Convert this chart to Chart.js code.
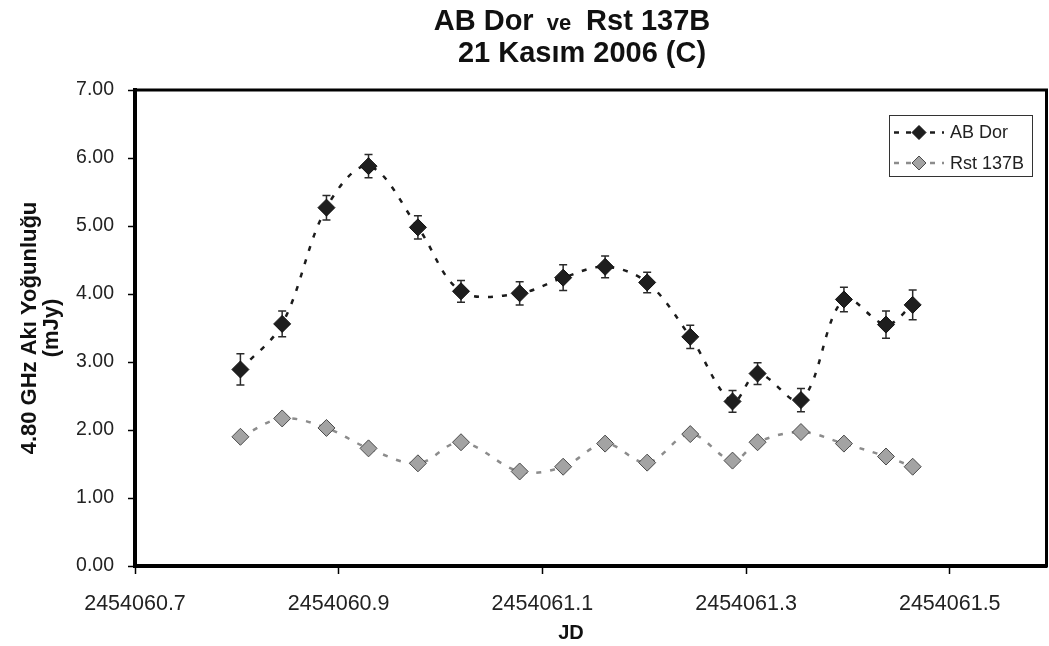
<!DOCTYPE html>
<html>
<head>
    <title>AB Dor ve Rst 137B</title>
    <script src="https://cdn.jsdelivr.net/npm/chart.js"></script>
    <style>
        html, body { margin: 0; padding: 0; background: #fff; overflow: hidden; }
        #chart { display: block; }
    </style>
</head>
<body>
    <canvas id="chart" width="1049" height="646"></canvas>

    <script>
        // Julian dates of the observations
        const jd = [2454060.8035, 2454060.8445, 2454060.8880, 2454060.9293, 2454060.9778, 2454061.0201,
                    2454061.0777, 2454061.1204, 2454061.1616, 2454061.2029, 2454061.2452, 2454061.2867,
                    2454061.3113, 2454061.3539, 2454061.3961, 2454061.4374, 2454061.4636];
        // 4.80 GHz flux density (mJy)
        const abDor = [2.89, 3.56, 5.27, 5.88, 4.98, 4.04, 4.01, 4.24, 4.40, 4.17, 3.37, 2.42, 2.83, 2.44, 3.92, 3.55, 3.84];
        const abDorErr = [0.23, 0.19, 0.18, 0.17, 0.17, 0.16, 0.17, 0.19, 0.16, 0.15, 0.17, 0.16, 0.16, 0.17, 0.18, 0.20, 0.22];
        const rst137b = [1.90, 2.17, 2.03, 1.73, 1.51, 1.82, 1.39, 1.46, 1.80, 1.52, 1.94, 1.55, 1.82, 1.97, 1.80, 1.61, 1.46];
        // axis ticks
        const jdTicks = [2454060.7, 2454060.9, 2454061.1, 2454061.3, 2454061.5];
        const jdTickLabels = ['2454060.7', '2454060.9', '2454061.1', '2454061.3', '2454061.5'];

        const FONT = "'Liberation Sans', Arial, sans-serif";
        const PLOT_RIGHT = 1046;

        function toPoints(ys) {
            return ys.map((y, i) => ({ x: jd[i], y: y }));
        }

        // hata çubukları
        const errorBars = {
            id: 'errorBars',
            beforeDatasetsDraw(chart) {
                const ctx = chart.ctx;
                const xs = chart.scales.x, ys = chart.scales.y;
                ctx.save();
                ctx.strokeStyle = '#2a2a2a';
                ctx.lineWidth = 1.5;
                abDor.forEach((v, i) => {
                    const px = xs.getPixelForValue(jd[i]);
                    const top = ys.getPixelForValue(v + abDorErr[i]);
                    const bot = ys.getPixelForValue(v - abDorErr[i]);
                    ctx.beginPath();
                    ctx.moveTo(px, top); ctx.lineTo(px, bot);
                    ctx.moveTo(px - 4, top); ctx.lineTo(px + 4, top);
                    ctx.moveTo(px - 4, bot); ctx.lineTo(px + 4, bot);
                    ctx.stroke();
                });
                ctx.restore();
            }
        };

        // başlık, çerçeve ve gösterge
        const decorations = {
            id: 'decorations',
            afterDraw(chart) {
                const ctx = chart.ctx;
                const a = chart.chartArea;
                ctx.save();

                // plot frame
                ctx.strokeStyle = '#000';
                ctx.lineWidth = 3;
                ctx.strokeRect(a.left, a.top, a.right - a.left, a.bottom - a.top);

                // title
                ctx.fillStyle = '#111';
                ctx.textBaseline = 'alphabetic';
                const parts = [
                    { t: 'AB Dor', f: 'bold 29px ' + FONT, gap: 13 },
                    { t: 've', f: 'bold 22px ' + FONT, gap: 15 },
                    { t: 'Rst 137B', f: 'bold 29px ' + FONT, gap: 0 }
                ];
                let total = 0;
                parts.forEach(p => { ctx.font = p.f; p.w = ctx.measureText(p.t).width; total += p.w + p.gap; });
                let x = 572 - total / 2;
                ctx.textAlign = 'left';
                parts.forEach(p => { ctx.font = p.f; ctx.fillText(p.t, x, 30); x += p.w + p.gap; });
                ctx.font = 'bold 29px ' + FONT;
                ctx.textAlign = 'center';
                ctx.fillText('21 Kasım 2006 (C)', 582, 62);

                // x axis title
                ctx.font = 'bold 20px ' + FONT;
                ctx.textBaseline = 'middle';
                ctx.fillText('JD', 571, 633);

                // legend
                const lx = 889, ly = 115, lw = 143, lh = 61;
                ctx.fillStyle = '#fff';
                ctx.fillRect(lx, ly, lw, lh);
                ctx.strokeStyle = '#333';
                ctx.lineWidth = 1;
                ctx.strokeRect(lx + 0.5, ly + 0.5, lw, lh);
                chart.data.datasets.forEach((ds, i) => {
                    const y = ly + 17.5 + i * 30.5;
                    ctx.strokeStyle = ds.borderColor;
                    ctx.lineWidth = ds.borderWidth;
                    ctx.setLineDash([5, 7]);
                    ctx.beginPath();
                    ctx.moveTo(894, y); ctx.lineTo(944, y);
                    ctx.stroke();
                    ctx.setLineDash([]);
                    ctx.beginPath();
                    ctx.moveTo(919, y - 7); ctx.lineTo(926, y); ctx.lineTo(919, y + 7); ctx.lineTo(912, y);
                    ctx.closePath();
                    ctx.fillStyle = ds.pointBackgroundColor;
                    ctx.fill();
                    ctx.strokeStyle = ds.pointBorderColor;
                    ctx.lineWidth = 1;
                    ctx.stroke();
                    ctx.fillStyle = '#222';
                    ctx.font = '18px ' + FONT;
                    ctx.textAlign = 'left';
                    ctx.textBaseline = 'middle';
                    ctx.fillText(ds.label, 950, y + 1);
                });
                ctx.restore();
            }
        };

        function makeConfig() {
            return {
                type: 'line',
                data: {
                    datasets: [
                        {
                            label: 'AB Dor',
                            data: toPoints(abDor),
                            borderColor: '#1c1c1c',
                            borderWidth: 2.5,
                            borderDash: [5, 9],
                            tension: 0.35,
                            pointStyle: 'rectRot',
                            pointRadius: 8.5,
                            pointBackgroundColor: '#1e1e1e',
                            pointBorderColor: '#111',
                            pointBorderWidth: 1,
                            fill: false
                        },
                        {
                            label: 'Rst 137B',
                            data: toPoints(rst137b),
                            borderColor: '#8c8c8c',
                            borderWidth: 2.5,
                            borderDash: [5, 9],
                            tension: 0.35,
                            pointStyle: 'rectRot',
                            pointRadius: 8.5,
                            pointBackgroundColor: '#a3a3a3',
                            pointBorderColor: '#4a4a4a',
                            pointBorderWidth: 1,
                            fill: false
                        }
                    ]
                },
                options: {
                    responsive: false,
                    animation: false,
                    layout: { padding: { top: 90, right: 0, left: 0, bottom: 0 } },
                    plugins: {
                        legend: { display: false },
                        title: { display: false },
                        tooltip: { enabled: false }
                    },
                    scales: {
                        x: {
                            type: 'linear',
                            min: 2454060.7,
                            max: 2454061.595,
                            afterBuildTicks: scale => { scale.ticks = jdTicks.map(v => ({ value: v })); },
                            afterFit: scale => {
                                scale.height = 80;
                                scale.paddingLeft = 0;
                                scale.paddingRight = 0;
                            },
                            border: { display: true, color: '#000', width: 4 },
                            grid: { drawOnChartArea: false, drawTicks: true, tickLength: 8, tickColor: '#000', tickWidth: 1.5 },
                            ticks: {
                                padding: 17,
                                color: '#222',
                                font: { family: FONT, size: 21.5 },
                                maxRotation: 0,
                                autoSkip: false,
                                callback: (value, index) => jdTickLabels[index]
                            }
                        },
                        y: {
                            min: 0,
                            max: 7,
                            afterFit: scale => { scale.width = 135; },
                            border: { display: true, color: '#000', width: 4 },
                            grid: { drawOnChartArea: false, drawTicks: true, tickLength: 7, tickColor: '#000', tickWidth: 1.5 },
                            ticks: {
                                stepSize: 1,
                                padding: 14,
                                color: '#222',
                                font: { family: FONT, size: 19.5 },
                                callback: value => value.toFixed(2)
                            },
                            title: {
                                display: true,
                                text: ['4.80 GHz Akı Yoğunluğu', '(mJy)'],
                                color: '#111',
                                font: { family: FONT, size: 22, weight: 'bold', lineHeight: 1.0 },
                                padding: { top: 19, bottom: 0 }
                            }
                        }
                    }
                },
                plugins: [errorBars, decorations]
            };
        }

        const canvas = document.getElementById('chart');
        let chart = new Chart(canvas, makeConfig());

        // the layout leaves a small gap on the right; widen the canvas past the window so the frame lands at PLOT_RIGHT
        const extra = Math.round(PLOT_RIGHT - chart.chartArea.right);
        if (extra > 0) {
            chart.destroy();
            canvas.width = 1049 + extra;
            canvas.height = 646;
            canvas.style.width = (1049 + extra) + 'px';
            canvas.style.height = '646px';
            chart = new Chart(canvas, makeConfig());
        }
    </script>
</body>
</html>
